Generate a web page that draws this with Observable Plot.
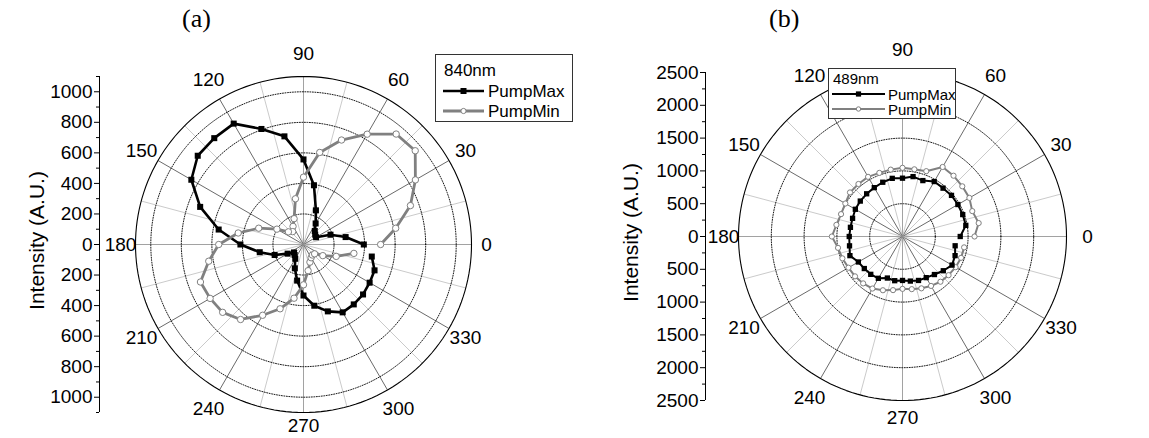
<!DOCTYPE html>
<html><head><meta charset="utf-8">
<script src="https://cdn.jsdelivr.net/npm/d3@7"></script>
<script src="https://cdn.jsdelivr.net/npm/@observablehq/plot@0.6"></script>
<style>
body{margin:0;background:#fff;font-family:"Liberation Sans",Arial,sans-serif;}
#root{position:relative;width:1149px;height:438px;overflow:hidden;background:#fff}
.panel{position:absolute;top:0}
.title{position:absolute;font-family:"Liberation Serif","Times New Roman",serif;font-size:26px;line-height:1}
.legend{position:absolute;border:1px solid #333;background:#fff;line-height:1}
.legend .t{position:absolute;white-space:nowrap}
.legend svg{position:absolute}
</style></head><body><div id="root"></div><script>
// ---- data ----
const angles = [0,10,20,30,40,50,60,70,80,90,100,110,120,130,140,150,160,170,180,190,200,210,220,230,240,250,260,270,280,290,300,310,320,330,340,350];
const a840PumpMax = [395,280,188,95,100,115,159,238,394,557,719,805,914,909,904,848,720,564,413,291,201,120,81,90,108,166,240,334,407,466,513,512,509,500,495,454];
const a840PumpMin = [505,613,745,846,955,944,834,728,612,441,304,180,137,110,129,201,312,434,555,630,718,706,691,641,535,448,357,264,174,123,100,90,95,146,228,335];
const b489PumpMax = [880,980,977,975,975,962,967,907,927,889,900,880,860,850,840,830,810,806,812,820,853,777,760,753,736,674,684,670,690,713,724,757,812,872,853,815];
const b489PumpMin = [1098,1179,1132,1177,1190,1210,1224,1060,1040,1047,1035,1032,1050,1045,1045,1006,997,1023,1077,998,975,951,945,933,916,872,830,798,815,841,870,900,917,935,950,954];
const angleLabels = [0,30,60,90,120,150,180,210,240,270,300,330];
const spokeAngles = [0,15,30,45,60,75,90,105,120,135,150,165,180,195,210,225,240,255,270,285,300,315,330,345];
const ringsA = [200,400,600,800,1000];
const ringsB = [500,1000,1500,2000];
const ticksA = [-1000,-800,-600,-400,-200,0,200,400,600,800,1000];
const minorA = [-1100,-900,-700,-500,-300,-100,100,300,500,700,900,1100];
const ticksB = [-2500,-2000,-1500,-1000,-500,0,500,1000,1500,2000,2500];
const minorB = [-2250,-1750,-1250,-750,-250,250,750,1250,1750,2250];
const circleSteps = d3.range(0, 361, 2);

const rad = a => a * Math.PI / 180;

function panel(cfg) {
  const {W, H, cx, cy, rPx, rMax, axisX, rings, ticks, minor, series, labelDx, zeroExtra, bottomShift} = cfg;
  const k = rPx / rMax;
  const X = (r, a) => r * Math.cos(rad(a));
  const Y = (r, a) => r * Math.sin(rad(a));
  const ringPts = rings.flatMap(r => circleSteps.map(a => ({r, a})));
  const labOff = a => {
    const s = Math.sin(rad(a)), c = Math.cos(rad(a));
    let o = rPx + 15 + 8 * Math.abs(s);
    if (s < -0.99) o -= bottomShift;
    if (c > 0.99) o += zeroExtra;
    return o / k;
  };
  const xMin = -(cx - axisX) / k;
  const marks = [
    Plot.link(spokeAngles, {x1: () => 0, y1: () => 0, x2: a => X(rMax, a), y2: a => Y(rMax, a),
      stroke: a => a % 90 === 0 ? "#8a8a8a" : a % 30 === 0 ? "#444444" : "#bcbcbc", strokeWidth: 0.8}),
    Plot.line(ringPts, {x: d => X(d.r, d.a), y: d => Y(d.r, d.a), z: "r", stroke: "#000", strokeWidth: 0.9, strokeDasharray: "1,1.5"}),
    Plot.line(circleSteps, {x: a => X(rMax, a), y: a => Y(rMax, a), stroke: "#000", strokeWidth: 1.1}),
  ];
  for (const s of series) {
    const data = angles.map((a, i) => ({a, v: s.values[i]}));
    marks.push(Plot.line(data, {x: d => X(d.v, d.a), y: d => Y(d.v, d.a), stroke: s.color, strokeWidth: s.lw}));
    if (s.symbol === "square")
      marks.push(Plot.dot(data, {x: d => X(d.v, d.a), y: d => Y(d.v, d.a), symbol: "square", fill: s.color, stroke: "none", r: s.ms}));
    else
      marks.push(Plot.dot(data, {x: d => X(d.v, d.a), y: d => Y(d.v, d.a), symbol: "circle", fill: "#fff", stroke: s.color, strokeWidth: 1, r: s.ms}));
  }
  marks.push(
    Plot.text(angleLabels, {x: a => X(labOff(a), a), y: a => Y(labOff(a), a), text: a => String(a), fontSize: 19, fill: "#000"}),
    Plot.ruleX([xMin], {y1: () => -rMax, y2: () => rMax, stroke: "#000", strokeWidth: 1}),
    Plot.axisY({ticks: minor, anchor: "left", tickSize: 3, tickFormat: () => "", stroke: "#000", label: null}),
    Plot.axisY({ticks, anchor: "left", tickSize: 5, tickPadding: 2, tickFormat: d => String(Math.abs(d)), fontSize: 19, fill: "#000", stroke: "#000", label: null}),
    Plot.text(["Intensity (A.U.)"], {frameAnchor: "left", textAnchor: "middle", dx: labelDx, dy: -4, rotate: -90, fontSize: 21, fill: "#000"})
  );
  return Plot.plot({
    width: W, height: H,
    marginLeft: axisX, marginRight: W - (cx + rPx), marginTop: cy - rPx, marginBottom: H - (cy + rPx),
    x: {domain: [xMin, rMax], axis: null},
    y: {domain: [-rMax, rMax], axis: null},
    style: {fontFamily: "'Liberation Sans', Arial, sans-serif", background: "#fff", overflow: "visible", color: "#000"},
    marks
  });
}

const root = document.getElementById("root");
const pa = panel({W: 575, H: 438, cx: 303, cy: 244, rPx: 168, rMax: 1100, axisX: 99, rings: ringsA, ticks: ticksA, minor: minorA, labelDx: -62, zeroExtra: 0, bottomShift: 10,
  series: [
    {values: a840PumpMax, color: "#000", lw: 2.6, symbol: "square", ms: 3.4},
    {values: a840PumpMin, color: "#808080", lw: 2.8, symbol: "circle", ms: 3.2}
  ]});
pa.classList.add("panel"); pa.style.left = "0px";
root.appendChild(pa);
const pb = panel({W: 574, H: 438, cx: 327, cy: 236, rPx: 164, rMax: 2500, axisX: 130, rings: ringsB, ticks: ticksB, minor: minorB, labelDx: -74, zeroExtra: 6, bottomShift: 6,
  series: [
    {values: b489PumpMin, color: "#808080", lw: 2, symbol: "circle", ms: 2.6},
    {values: b489PumpMax, color: "#000", lw: 2, symbol: "square", ms: 3}
  ]});
pb.classList.add("panel"); pb.style.left = "575px";
root.appendChild(pb);

function addTitle(text, left, top) {
  const d = document.createElement("div"); d.className = "title"; d.textContent = text;
  d.style.left = left + "px"; d.style.top = top + "px"; root.appendChild(d);
}
addTitle("(a)", 182, 6);
addTitle("(b)", 769, 6);

function addLegend(cfg) {
  const {left, top, width, height, head, rows, rowTops, lineX, lineLen, textX, fontSize, headTop, ms} = cfg;
  const box = document.createElement("div"); box.className = "legend";
  Object.assign(box.style, {left: left + "px", top: top + "px", width: width + "px", height: height + "px", fontSize: fontSize + "px"});
  const h = document.createElement("div"); h.className = "t"; h.textContent = head;
  Object.assign(h.style, {left: (lineX + 1) + "px", top: headTop + "px"}); box.appendChild(h);
  rows.forEach((r, i) => {
    const ns = "http://www.w3.org/2000/svg";
    const svg = document.createElementNS(ns, "svg");
    svg.setAttribute("width", lineLen); svg.setAttribute("height", 12);
    Object.assign(svg.style, {left: lineX + "px", top: (rowTops[i] - 6) + "px"});
    const ln = document.createElementNS(ns, "line");
    ln.setAttribute("x1", 0); ln.setAttribute("x2", lineLen); ln.setAttribute("y1", 6); ln.setAttribute("y2", 6);
    ln.setAttribute("stroke", r.color); ln.setAttribute("stroke-width", r.lw); svg.appendChild(ln);
    if (r.symbol === "square") {
      const q = document.createElementNS(ns, "rect");
      q.setAttribute("x", lineLen / 2 - ms); q.setAttribute("y", 6 - ms); q.setAttribute("width", 2 * ms); q.setAttribute("height", 2 * ms);
      q.setAttribute("fill", r.color); svg.appendChild(q);
    } else {
      const c = document.createElementNS(ns, "circle");
      c.setAttribute("cx", lineLen / 2); c.setAttribute("cy", 6); c.setAttribute("r", ms - 0.4);
      c.setAttribute("fill", "#fff"); c.setAttribute("stroke", r.color); svg.appendChild(c);
    }
    box.appendChild(svg);
    const t = document.createElement("div"); t.className = "t"; t.textContent = r.label;
    Object.assign(t.style, {left: textX + "px", top: (rowTops[i] - fontSize / 2) + "px"}); box.appendChild(t);
  });
  root.appendChild(box);
}
addLegend({left: 435, top: 54, width: 136, height: 66, head: "840nm", headTop: 7, rowTops: [36, 56], lineX: 7, lineLen: 41, textX: 52, fontSize: 17, ms: 3,
  rows: [{label: "PumpMax", color: "#000", lw: 2.6, symbol: "square"}, {label: "PumpMin", color: "#808080", lw: 2.8, symbol: "circle"}]});
addLegend({left: 828, top: 68, width: 126, height: 49, head: "489nm", headTop: 2, rowTops: [25, 40], lineX: 3, lineLen: 53, textX: 59, fontSize: 15, ms: 2.6,
  rows: [{label: "PumpMax", color: "#000", lw: 2, symbol: "square"}, {label: "PumpMin", color: "#808080", lw: 2, symbol: "circle"}]});
</script></body></html>
